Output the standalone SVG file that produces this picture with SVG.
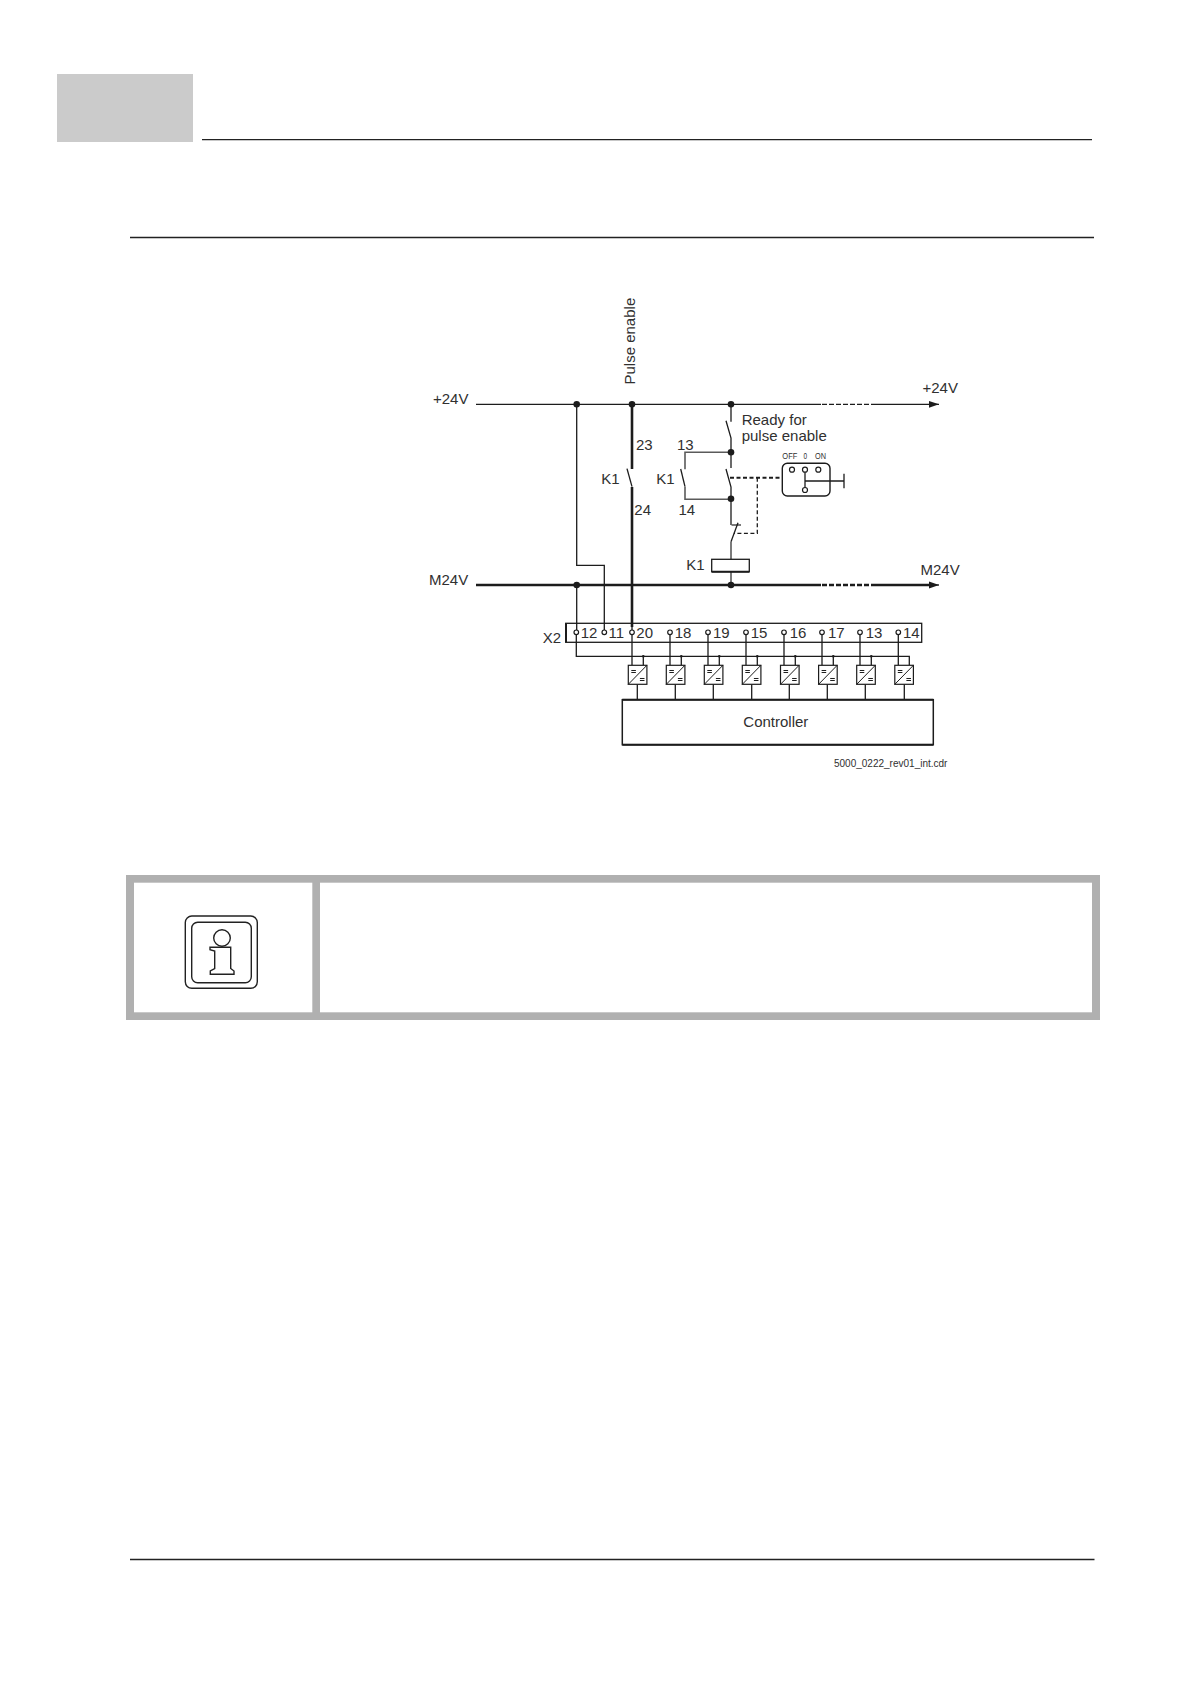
<svg xmlns="http://www.w3.org/2000/svg" width="1190" height="1684" viewBox="0 0 1190 1684">
<defs>
<style>
text{font-family:"Liberation Sans",Arial,sans-serif;font-size:15px;fill:#303030}
.w{fill:none;stroke:#1c1c1c;stroke-width:1.3}
.m{fill:none;stroke:#1c1c1c;stroke-width:2}
.t{fill:none;stroke:#1c1c1c;stroke-width:2.6}
.g{fill:none;stroke:#5a5a5a;stroke-width:1.6}
.d{fill:#1c1c1c}
.o{fill:#fff;stroke:#1c1c1c;stroke-width:1.2}
.r{fill:none;stroke:#222;stroke-width:1.4}
.b{fill:#b0b0b0}
.sm{font-size:9px}
</style>
<marker id="arrow" markerUnits="userSpaceOnUse" markerWidth="10" markerHeight="8" refX="10" refY="4" orient="auto"><path d="M0 .6L10 4L0 7.4z" fill="#1c1c1c"/></marker>
<g id="conv"><rect x="0" y="0" width="18.6" height="19" fill="#fff" stroke="#1c1c1c" stroke-width="1.2"/><path d="M0 19L18.6 0M3 5.2h4.6M3 7.2h4.6M11.6 13.2h4.6M11.6 15.2h4.6" fill="none" stroke="#1c1c1c" stroke-width="1"/></g>
</defs>
<rect width="1190" height="1684" fill="#fff"/>
<g id="page">
<rect x="57" y="74" width="136" height="68" fill="#cbcbcb"/>
<path d="M202 139.7H1092M130 237.5H1094M130 1559.5H1094.5" fill="none" stroke="#222" stroke-width="1.3"/>
</g>
<g id="connectors">
<path class="w" d="M476 404.3H821" />
<path class="w" d="M822 404.3H872" stroke-dasharray="5 2"/>
<path class="w" d="M872 404.3H939" marker-end="url(#arrow)"/>
<path class="t" d="M476 585H821"/>
<path class="t" d="M822 585H872" stroke-dasharray="5 2"/>
<path class="t" d="M872 585H932"/>
<path class="w" d="M925 585H939" marker-end="url(#arrow)"/>
<path class="w" d="M576.7 404.3V565.3H604.3V630"/>
<path class="w" d="M576.7 585V630"/>
<path class="t" d="M632 404.3V469"/>
<path class="w" d="M627 468.7L632 486.7"/>
<path class="t" d="M632 487V627"/>
<path class="w" d="M632 627V630"/>
<path class="w" d="M731 404V421.7M726 420.7L731 438V452"/>
<path class="g" d="M685 469.3V452.3H731"/>
<path class="w" d="M680.7 469L685 486.7"/>
<path class="g" d="M685 486.7V499.3H731"/>
<path class="w" d="M731 452V468M726 469L731 487V525"/>
<path class="g" d="M731.5 525H741"/>
<path class="w" d="M738 522.7L731 541.7"/>
<path class="g" d="M731 541.7V559.3"/>
<path class="g" d="M731 571.7V585"/>
<path class="m" d="M730 477.7H782" stroke-dasharray="4 2.5"/>
<path class="w" d="M757.3 477.7V533.3H734" stroke-dasharray="4 2.5"/>
<path class="w" d="M576.3 634.7V656.3H909.3V665.3"/>
<path class="w" d="M632 634.7V665.3M670 634.7V665.3M708 634.7V665.3M746 634.7V665.3M784 634.7V665.3M822 634.7V665.3M860 634.7V665.3M898.3 634.7V665.3"/>
<path class="w" d="M643.3 656.3V665.3M681.3 656.3V665.3M719.3 656.3V665.3M757.3 656.3V665.3M795.3 656.3V665.3M833.3 656.3V665.3M871.3 656.3V665.3"/>
<path class="w" d="M637.3 684.3V699.7M675.3 684.3V699.7M713.3 684.3V699.7M751.7 684.3V699.7M789.3 684.3V699.7M827.3 684.3V699.7M865.3 684.3V699.7M904.3 684.3V699.7"/>
<g class="dots">
<circle class="d" cx="576.7" cy="404.3" r="3.3"/><circle class="d" cx="632" cy="404.3" r="3.3"/><circle class="d" cx="731" cy="404.3" r="3.3"/>
<circle class="d" cx="731" cy="452.3" r="3.3"/><circle class="d" cx="731" cy="498.8" r="3.3"/>
<circle class="d" cx="576.7" cy="585" r="3.3"/><circle class="d" cx="731" cy="585" r="3.3"/>
<circle class="d" cx="643.3" cy="656.3" r="1.3"/><circle class="d" cx="681.3" cy="656.3" r="1.3"/><circle class="d" cx="719.3" cy="656.3" r="1.3"/><circle class="d" cx="757.3" cy="656.3" r="1.3"/><circle class="d" cx="795.3" cy="656.3" r="1.3"/><circle class="d" cx="833.3" cy="656.3" r="1.3"/><circle class="d" cx="871.3" cy="656.3" r="1.3"/>
</g>
</g>
<g id="labels">
<text x="433" y="403.5">+24V</text>
<text x="429" y="585">M24V</text>
<text x="922.5" y="392.7">+24V</text>
<text x="920.5" y="575">M24V</text>
<text transform="translate(635 384.5) rotate(-90)">Pulse enable</text>
<text x="636" y="450">23</text>
<text x="634.3" y="515">24</text>
<text x="601.2" y="484">K1</text>
<text x="656.2" y="484">K1</text>
<text x="677" y="450">13</text>
<text x="678.5" y="515">14</text>
<text x="741.7" y="424.7">Ready for</text>
<text x="741.7" y="441.3">pulse enable</text>
</g>
<g id="coil-k1">
<rect x="711.7" y="559.3" width="37.6" height="12.4" fill="#fff" stroke="#1c1c1c" stroke-width="1.3"/>
<path class="m" d="M711.7 571.7H749.3"/>
<text x="686.2" y="570">K1</text>
</g>
<g id="selector">
<rect x="782.3" y="463.3" width="47.7" height="32.7" rx="5" fill="#fff" stroke="#1c1c1c" stroke-width="1.4"/>
<circle class="o" cx="792" cy="469.7" r="2.5"/><circle class="o" cx="805" cy="469.7" r="2.5"/><circle class="o" cx="818.3" cy="469.7" r="2.5"/><circle class="o" cx="805" cy="490" r="2.5"/>
<path class="w" d="M805 472.2V487.5M805 481H844M844 473.7V488.3"/>
<text class="sm" x="782.3" y="459" textLength="15" lengthAdjust="spacingAndGlyphs">OFF</text>
<text class="sm" x="803.5" y="459" textLength="3.6" lengthAdjust="spacingAndGlyphs">0</text>
<text class="sm" x="815" y="459" textLength="11" lengthAdjust="spacingAndGlyphs">ON</text>
</g>
<g id="x2">
<rect x="565.7" y="623.3" width="356" height="19" fill="none" stroke="#1c1c1c" stroke-width="1.3"/>
<path class="m" d="M566 623.3V642.3"/>
<text x="542.8" y="642.7">X2</text>
<g id="terminals">
<circle class="o" cx="576.3" cy="632.3" r="2.3"/><circle class="o" cx="604.3" cy="632.3" r="2.3"/><circle class="o" cx="632" cy="632.3" r="2.3"/><circle class="o" cx="670" cy="632.3" r="2.3"/><circle class="o" cx="708" cy="632.3" r="2.3"/><circle class="o" cx="746" cy="632.3" r="2.3"/><circle class="o" cx="784" cy="632.3" r="2.3"/><circle class="o" cx="822" cy="632.3" r="2.3"/><circle class="o" cx="860" cy="632.3" r="2.3"/><circle class="o" cx="898.3" cy="632.3" r="2.3"/>
<text x="580.7" y="638.3">12</text><text x="608.5" y="638.3">11</text><text x="636.3" y="638.3">20</text><text x="674.7" y="638.3">18</text><text x="713" y="638.3">19</text><text x="750.7" y="638.3">15</text><text x="789.7" y="638.3">16</text><text x="828" y="638.3">17</text><text x="865.7" y="638.3">13</text><text x="903" y="638.3">14</text>
</g>
</g>
<g id="converters">
<use href="#conv" x="628.3" y="665.3"/><use href="#conv" x="666.3" y="665.3"/><use href="#conv" x="704.3" y="665.3"/><use href="#conv" x="742.3" y="665.3"/><use href="#conv" x="780.5" y="665.3"/><use href="#conv" x="818.6" y="665.3"/><use href="#conv" x="856.7" y="665.3"/><use href="#conv" x="894.8" y="665.3"/>
</g>
<g id="controller">
<rect x="622.3" y="699.7" width="311" height="45" fill="#fff" stroke="#1c1c1c" stroke-width="1.5"/>
<path class="m" d="M622.3 744.7H933.3M622.3 699.7H933.3"/>
<text x="743.3" y="726.7">Controller</text>
</g>
<text x="834" y="766.7" style="font-size:10px">5000_0222_rev01_int.cdr</text>
<g id="info-box">
<rect class="b" x="126" y="875" width="974" height="145"/>
<rect x="134" y="882.7" width="178.3" height="129.6" fill="#fff"/>
<rect x="320" y="882.7" width="772" height="129.6" fill="#fff"/>
<rect class="r" x="185.3" y="916" width="72" height="72.3" rx="6.5"/>
<rect class="r" x="191.7" y="922.3" width="59.6" height="60.4" rx="6"/>
<circle class="r" cx="222" cy="938" r="8.3"/>
<path class="r" d="M210 947.3H230.7V968.5L234 971V974.3H210.3V971L214.7 968.5V951L210 949.7Z"/>
</g>
</svg>
